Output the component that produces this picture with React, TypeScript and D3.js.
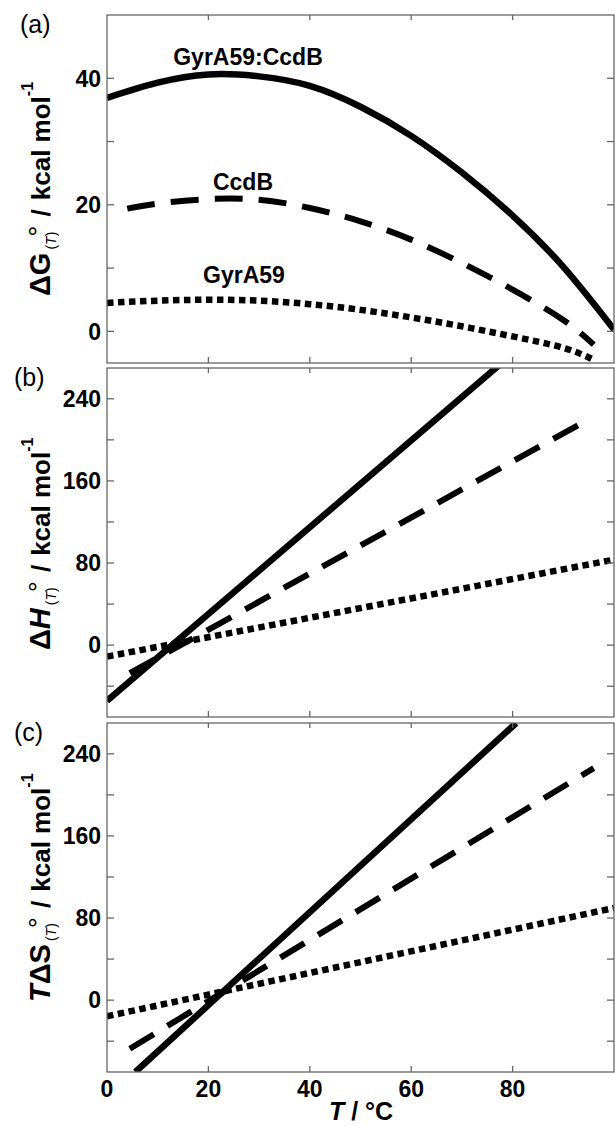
import React from 'react';
import * as d3 from 'd3';

// temperatures (°C) and values (kcal/mol)
const complexGTemps = [0, 10, 20, 30, 40, 50, 60, 70, 80, 90, 100];
const complexG = [36.9, 39.3, 40.6, 40.3, 38.8, 35.5, 30.9, 25.1, 18.3, 10.2, 0.3];
const ccdbGTemps = [4, 10, 20, 30, 40, 50, 60, 70, 80, 90, 96];
const ccdbG = [19.4, 20.2, 20.9, 20.8, 19.5, 17.4, 14.5, 10.8, 6.6, 1.8, -2.1];
const gyrGTemps = [0, 10, 20, 30, 40, 50, 60, 70, 80, 90, 96];
const gyrG = [4.5, 4.85, 5.0, 4.85, 4.3, 3.4, 2.2, 0.8, -0.8, -2.6, -4.5];

const complexHTemps = [0, 80];
const complexH = [-54.3, 284];
const ccdbHTemps = [4.5, 95];
const ccdbH = [-27.3, 220];
const gyrHTemps = [0, 100];
const gyrH = [-11.1, 83.3];

const complexSTemps = [5.6, 80.7];
const complexTS = [-70, 270];
const ccdbSTemps = [4.5, 96];
const ccdbTS = [-47.3, 226];
const gyrSTemps = [0, 100];
const gyrTS = [-15.7, 89.8];

const xTickLabels = [0, 20, 40, 60, 80];
const gTicks = [0, 10, 20, 30, 40];
const gLabels = [0, 20, 40];
const hsTicks = [-40, 0, 40, 80, 120, 160, 200, 240];
const hsLabels = [0, 80, 160, 240];

const W = 615;
const H = 1126;
const left = 107;
const right = 614;
const font = '"Liberation Sans", Arial, sans-serif';

const x = d3.scaleLinear().domain([0, 100]).range([left, right]);

const zip = (t: number[], v: number[]) => t.map((d, i) => [d, v[i]] as [number, number]);

const styles: Record<string, { w: number; dash?: string }> = {
  solid: { w: 6.5 },
  dashed: { w: 6, dash: '28 16' },
  dotted: { w: 6.5, dash: '6.5 4.5' },
};

const Panel = ({ id, top, bottom, domain, ticks, labels, showX, series, tag, tagX, yLabel }: any) => {
  const y = d3.scaleLinear().domain(domain).range([bottom, top]);
  const curve = id === 'a' ? d3.curveNatural : d3.curveLinear;
  const line = d3.line<[number, number]>()
    .x(d => x(d[0]))
    .y(d => y(d[1]))
    .curve(curve);
  const tk = 7;
  const xt = [20, 40, 60, 80];
  return (
    <g>
      <defs>
        <clipPath id={'clip-' + id}>
          <rect x={left} y={top} width={right - left} height={bottom - top} />
        </clipPath>
      </defs>
      <g clipPath={`url(#clip-${id})`}>
        {series.map((s: any, i: number) => (
          <path
            key={i}
            d={line(s.data) || ''}
            fill="none"
            stroke="#000"
            strokeWidth={styles[s.style].w}
            strokeDasharray={styles[s.style].dash}
          />
        ))}
      </g>
      <rect x={left} y={top} width={right - left} height={bottom - top} fill="none" stroke="#666" strokeWidth={1.3} />
      {ticks.map((t: number) => (
        <g key={t}>
          <line x1={left} x2={left + tk} y1={y(t)} y2={y(t)} stroke="#666" strokeWidth={1.3} />
          <line x1={right - tk} x2={right} y1={y(t)} y2={y(t)} stroke="#666" strokeWidth={1.3} />
        </g>
      ))}
      {xt.map(t => (
        <g key={t}>
          <line x1={x(t)} x2={x(t)} y1={top} y2={top + 5} stroke="#666" strokeWidth={1.3} />
          <line x1={x(t)} x2={x(t)} y1={bottom} y2={bottom - 6} stroke="#666" strokeWidth={1.3} />
        </g>
      ))}
      {labels.map((t: number) => (
        <text key={t} x={101} y={y(t)} dy="0.36em" textAnchor="end" fontSize={23} fontWeight="bold" fontFamily={font}>
          {t}
        </text>
      ))}
      {showX && xTickLabels.map(t => (
        <text key={t} x={x(t)} y={bottom + 25} textAnchor="middle" fontSize={23} fontWeight="bold" fontFamily={font}>
          {t}
        </text>
      ))}
      <text x={tagX} y={top + 18} fontSize={25} fontFamily={font}>{tag}</text>
      {yLabel}
    </g>
  );
};

// rotated axis title, drawn from its bottom end upward
const YLabel = ({ bottom, pre, sym, symItalic }: any) => (
  <text transform="rotate(-90)" x={-bottom} y={50} fontSize={26} fontWeight="bold" fontFamily={font}>
    <tspan fontSize={29}>
      {pre && <tspan fontStyle="italic">{pre}</tspan>}
      Δ<tspan fontStyle={symItalic ? 'italic' : 'normal'}>{sym}</tspan>
    </tspan>
    <tspan fontSize={14} fontWeight="normal" dx={3} dy={6}>(<tspan fontStyle="italic">T</tspan>)</tspan>
    <tspan fontSize={28} fontWeight="normal" dx={-5} dy={-8}>°</tspan>
    <tspan dx={9} dy={2}>/</tspan>
    <tspan dx={9}>kcal mol</tspan>
    <tspan fontSize={16} dy={-17}>-1</tspan>
  </text>
);

export default function App() {
  return (
    <div style={{ position: 'absolute', left: 0, top: 0 }}>
      <svg width={W} height={H} style={{ display: 'block', background: '#fff' }}>
        <Panel
          id="a" top={15} bottom={363} domain={[-5, 50]} ticks={gTicks} labels={gLabels}
          tag="(a)" tagX={20}
          series={[
            { data: zip(complexGTemps, complexG), style: 'solid' },
            { data: zip(ccdbGTemps, ccdbG), style: 'dashed' },
            { data: zip(gyrGTemps, gyrG), style: 'dotted' },
          ]}
          yLabel={<YLabel bottom={296} sym="G" />}
        />
        <Panel
          id="b" top={368} bottom={717} domain={[-70, 270]} ticks={hsTicks} labels={hsLabels}
          tag="(b)" tagX={14}
          series={[
            { data: zip(complexHTemps, complexH), style: 'solid' },
            { data: zip(ccdbHTemps, ccdbH), style: 'dashed' },
            { data: zip(gyrHTemps, gyrH), style: 'dotted' },
          ]}
          yLabel={<YLabel bottom={650} sym="H" symItalic />}
        />
        <Panel
          id="c" top={723} bottom={1072} domain={[-70, 270]} ticks={hsTicks} labels={hsLabels}
          tag="(c)" tagX={14} showX
          series={[
            { data: zip(complexSTemps, complexTS), style: 'solid' },
            { data: zip(ccdbSTemps, ccdbTS), style: 'dashed' },
            { data: zip(gyrSTemps, gyrTS), style: 'dotted' },
          ]}
          yLabel={<YLabel bottom={1002} pre="T" sym="S" />}
        />
        <g fontFamily={font} fontWeight="bold" fontSize={23} textAnchor="middle">
          <text x={248} y={65}>GyrA59:CcdB</text>
          <text x={243} y={190}>CcdB</text>
          <text x={244} y={283}>GyrA59</text>
        </g>
        <text x={361} y={1120} textAnchor="middle" fontFamily={font} fontWeight="bold" fontSize={25}>
          <tspan fontStyle="italic">T</tspan> / °C
        </text>
      </svg>
    </div>
  );
}
